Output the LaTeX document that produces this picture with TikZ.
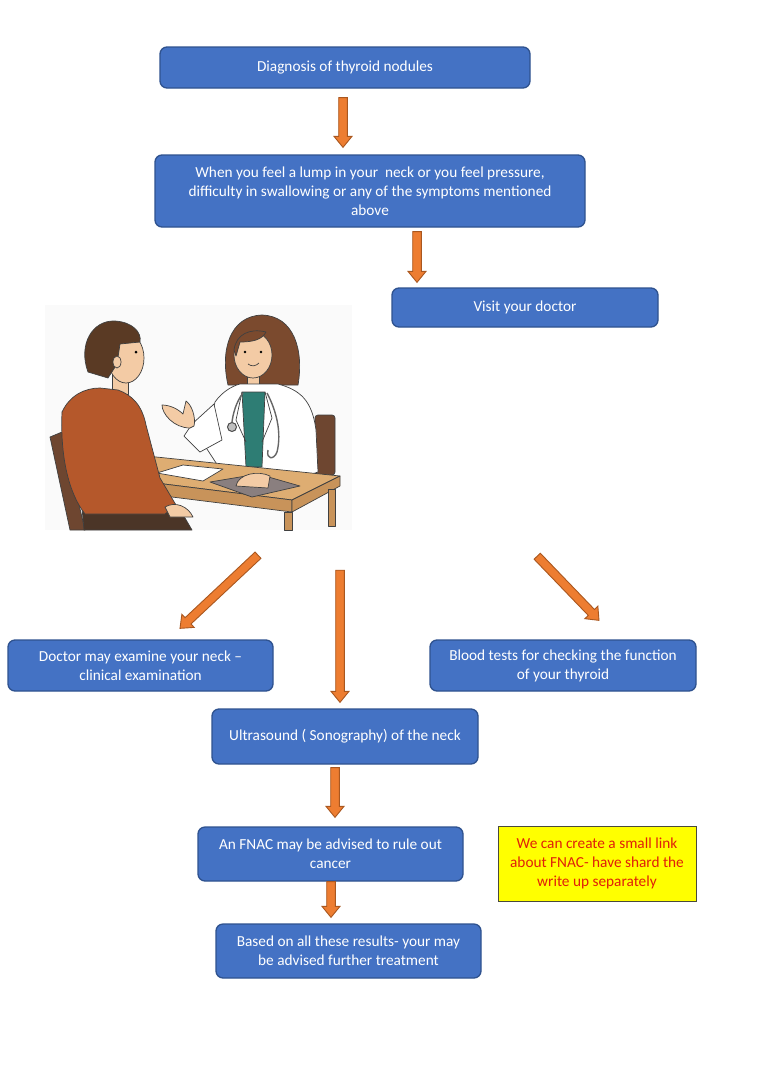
\documentclass[tikz,border=0pt]{standalone}
\usepackage{fontspec}
\setmainfont{Carlito}
\usetikzlibrary{calc}
\definecolor{boxblue}{HTML}{4472C4}
\definecolor{boxedge}{HTML}{2F528F}
\definecolor{arrowfill}{HTML}{ED7D31}
\definecolor{arrowedge}{HTML}{A9571F}
\definecolor{noteyellow}{HTML}{FFFF00}
\definecolor{noteedge}{HTML}{4A4A3A}
\definecolor{notered}{HTML}{E0200A}
\definecolor{skin}{HTML}{F3CBA5}
\definecolor{manhair}{HTML}{5A3A24}
\definecolor{dochair}{HTML}{7B4A2E}
\definecolor{sweater}{HTML}{B5582B}
\definecolor{pants}{HTML}{4B3527}
\definecolor{chairbrown}{HTML}{6E4630}
\definecolor{shirtteal}{HTML}{2E7D74}
\definecolor{tabletop}{HTML}{DEAD72}
\definecolor{tableside}{HTML}{C8935A}
\definecolor{clipgrey}{HTML}{8A7F7F}
\begin{document}
\begin{tikzpicture}[x=1pt,y=-1pt,
 stage/.style={draw=boxedge,fill=boxblue,line width=1.3pt,rounded corners=7pt,text=white,align=center,inner sep=0pt,font=\fontsize{15.3}{19}\selectfont},
 note/.style={draw=noteedge,fill=noteyellow,line width=1pt,text=notered,align=center,inner sep=0pt,font=\fontsize{15.3}{19}\selectfont},
 blockarrow/.style={draw=arrowedge,fill=arrowfill,line width=0.9pt,
  to path={let \p1=(\tikztostart),\p2=(\tikztotarget),\n1={atan2(\y2-\y1,\x2-\x1)} in
   ($(\p1)+(\n1+90:4.3pt)$) -- ($(\p2)+(\n1+180:11pt)+(\n1+90:4.3pt)$)
   -- ($(\p2)+(\n1+180:11pt)+(\n1+90:9pt)$) -- (\p2)
   -- ($(\p2)+(\n1+180:11pt)+(\n1-90:9pt)$) -- ($(\p2)+(\n1+180:11pt)+(\n1-90:4.3pt)$)
   -- ($(\p1)+(\n1-90:4.3pt)$) -- cycle}},
 inked/.style={draw=black!75,line width=0.7pt,line join=round}]
\fill[white] (0,0) rectangle (768,1080);
\useasboundingbox (0,0) rectangle (768,1080);

\node[stage,minimum width=370pt,minimum height=41pt] (title) at (345,67.5) {Diagnosis of thyroid nodules};
\node[stage,minimum width=430pt,minimum height=72pt] (symptoms) at (370,191) {When you feel a lump in your\ \ neck or you feel pressure,\\difficulty in swallowing or any of the symptoms mentioned\\above};
\node[stage,minimum width=266pt,minimum height=39pt] (visit) at (525,307.5) {Visit your doctor};
\node[stage,minimum width=265pt,minimum height=51pt] (examine) at (140.5,665.5) {Doctor may examine your neck --\\clinical examination};
\node[stage,minimum width=266pt,minimum height=51pt] (blood) at (563,665.5) {Blood tests for checking the function\\of your thyroid};
\node[stage,minimum width=266pt,minimum height=55pt] (ultrasound) at (345,736.5) {Ultrasound ( Sonography) of the neck};
\node[stage,minimum width=265pt,minimum height=54pt] (fnac) at (330.5,854) {An FNAC may be advised to rule out\\cancer};
\node[stage,minimum width=265pt,minimum height=54pt] (based) at (348.5,951) {Based on all these results- your may\\be advised further treatment};
\node[note,minimum width=198pt,minimum height=75pt] (fnaclink) at (597,863.5) {We can create a small link\\about FNAC- have shard the\\write up separately};

\node[minimum width=307pt,minimum height=225pt,inner sep=0pt,fill=black!2] (scene) at (198.5,417.5) {};
\filldraw[inked,fill=chairbrown,rounded corners=3pt] (315,415) rectangle (335,475);
\filldraw[inked,fill=dochair] (228,385) .. controls (220,350) and (230,316) .. (262,315) .. controls (294,316) and (304,350) .. (298,385) -- cycle;
\filldraw[inked,fill=skin] (247,372) rectangle (259,392);
\filldraw[inked,fill=skin] (253,355) ellipse [x radius=19pt,y radius=23pt];
\filldraw[inked,fill=dochair] (234,350) .. controls (236,334) and (250,328) .. (266,332) .. controls (262,340) and (252,342) .. (240,342) -- (236,356) -- cycle;
\fill (245,352) circle (1.4pt);
\fill (261,352) circle (1.4pt);
\draw[inked] (248,364) .. controls (252,367) and (256,366) .. (259,363);
\filldraw[inked,fill=white] (240,384) -- (278,384) .. controls (300,390) and (312,400) .. (316,430) -- (318,472) -- (272,488) -- (222,472) -- (205,446) -- (215,402) .. controls (222,392) and (232,386) .. (240,384) -- cycle;
\filldraw[inked,fill=shirtteal] (242,392) -- (265,392) -- (262,467) -- (246,467) -- cycle;
\draw[inked] (242,392) -- (236,420) -- (246,442);
\draw[inked] (265,392) -- (272,418) -- (262,442);
\draw[black!60,line width=1.4pt] (243,393) .. controls (236,402) and (233,414) .. (232,422);
\filldraw[draw=black!70,fill=black!25,line width=1pt] (232,427) circle (4.5pt);
\draw[black!60,line width=1.4pt] (267,393) .. controls (276,410) and (282,432) .. (277,452) .. controls (274,460) and (266,460) .. (268,450);
\filldraw[inked,fill=white] (214,404) -- (192,424) -- (184,436) -- (200,452) -- (222,440) -- cycle;
\filldraw[inked,fill=skin] (190,428) .. controls (174,428) and (162,414) .. (162,405) .. controls (170,405) and (178,409) .. (183,414) -- (186,401) .. controls (192,405) and (196,418) .. (194,426) -- cycle;
\filldraw[inked,fill=tabletop] (137,455) -- (340,476) -- (292,500) -- (148,482) -- cycle;
\filldraw[inked,fill=tableside] (148,482) -- (292,500) -- (292,512) -- (148,494) -- cycle;
\filldraw[inked,fill=tableside] (292,500) -- (340,476) -- (340,486) -- (292,512) -- cycle;
\filldraw[inked,fill=tableside] (284,512) rectangle (292,530);
\filldraw[inked,fill=tableside] (328,489) rectangle (335,526);
\filldraw[inked,fill=white] (157,473) -- (183,465) -- (223,469) -- (203,481) -- cycle;
\filldraw[inked,fill=clipgrey] (210,482) -- (258,474) -- (300,486) -- (252,497) -- cycle;
\filldraw[inked,fill=skin] (236,486) .. controls (238,474) and (258,470) .. (270,476) -- (268,488) -- cycle;
\filldraw[inked,fill=chairbrown] (50,437) -- (62,432) -- (85,530) -- (70,530) -- cycle;
\filldraw[inked,fill=pants] (82,508) -- (178,506) -- (192,530) -- (84,530) -- cycle;
\filldraw[inked,fill=skin] (112,374) rectangle (128,394);
\filldraw[inked,fill=sweater] (62,412) .. controls (70,395) and (85,388) .. (100,388) -- (118,390) .. controls (132,395) and (142,405) .. (146,425) -- (160,478) -- (176,505) -- (165,514) -- (85,514) .. controls (70,495) and (60,460) .. (62,412) -- cycle;
\filldraw[inked,fill=skin] (165,507) .. controls (175,501) and (188,506) .. (193,517) -- (170,517) -- cycle;
\filldraw[inked,fill=skin] (126,358) ellipse [x radius=18pt,y radius=25pt];
\filldraw[inked,fill=manhair] (88,372) .. controls (78,345) and (92,320) .. (115,321) .. controls (132,322) and (142,332) .. (140,342) -- (120,344) -- (117,364) -- (108,378) -- cycle;
\filldraw[inked,fill=skin] (117,362) ellipse [x radius=4pt,y radius=6pt];
\fill (136,352) circle (1.5pt);

\draw[blockarrow] ([shift={(-2,9)}]title.south) to ([shift={(-27,-7)}]symptoms.north);
\draw[blockarrow] ([shift={(47,4)}]symptoms.south) to ([shift={(-108,-5)}]visit.north);
\draw[blockarrow] ([shift={(59.5,25)}]scene.south) to ([shift={(39.5,-11)}]examine.north);
\draw[blockarrow] ([shift={(141.5,40)}]scene.south) to ([shift={(-5,-6)}]ultrasound.north);
\draw[blockarrow] ([shift={(185,26)}]scene.south east) to ([shift={(36,-19)}]blood.north);
\draw[blockarrow] ([shift={(-10,3)}]ultrasound.south) to ([shift={(4.5,-9)}]fnac.north);
\draw[blockarrow] ([shift={(0.5,0)}]fnac.south) to ([shift={(-17.5,-6)}]based.north);
\end{tikzpicture}
\end{document}
